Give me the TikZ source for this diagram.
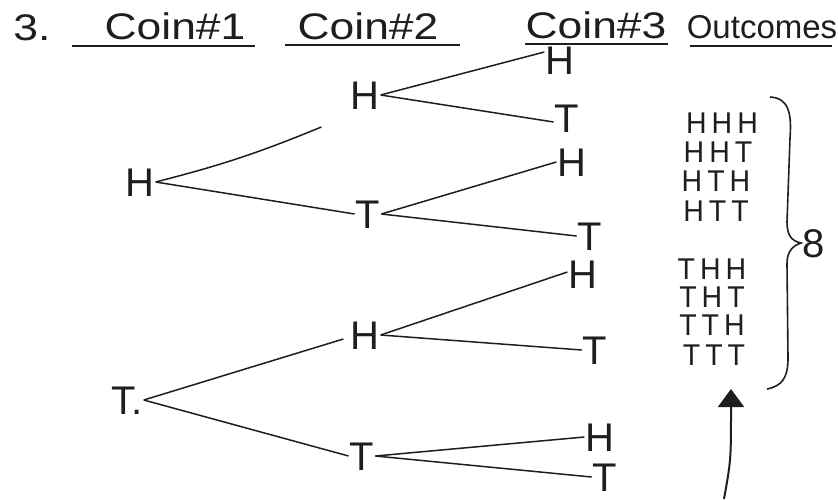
\documentclass[tikz,border=0pt]{standalone}
\usepackage{fontspec}
\setmainfont{Liberation Sans}
\newfontfamily\widefont{Liberation Sans}[FakeStretch=1.2]
\newfontfamily\narrowfont{Liberation Sans}[FakeStretch=0.95]
\usetikzlibrary{arrows.meta}
\definecolor{ink}{HTML}{1E1E1E}
\begin{document}
\begin{tikzpicture}[x=1pt,y=-1pt,
  lvl/.style={inner sep=1pt,text=ink,text height=28.6pt,text depth=0pt,font=\fontsize{40}{40}\selectfont},
  outc/.style={inner sep=0pt,text=ink,text height=21.5pt,text depth=0pt,font=\narrowfont\fontsize{30}{30}\selectfont},
  head/.style={inner sep=1pt,text=ink,font=\widefont\fontsize{37}{37}\selectfont},
  branch/.style={draw=ink,line width=1.5pt},
  uline/.style={draw=ink,line width=1.6pt}]
\useasboundingbox (0,0) rectangle (838,499);
% headers
\node[head] (num) at (32,28) {3.};
\node[head] (c1) at (175,26) {Coin\#1};
\node[head] (c2) at (368,26) {Coin\#2};
\node[head] (c3) at (596,25) {Coin\#3};
\node[head,font=\fontsize{33}{33}\selectfont] (oc) at (762,27) {Outcomes};
\draw[uline] (72,46) -- (255,46);
\draw[uline] (285,45) -- (460,45);
\draw[uline] (525,44) -- (668,44);
\draw[uline] (690,46) -- (832,46);
% tree
\node[lvl] (a) at (140,182) {H};
\node[lvl] (b) at (127,400) {T.};
\node[lvl] (aa) at (365,95) {H};
\node[lvl] (ab) at (368,214) {T};
\node[lvl] (ba) at (365,335) {H};
\node[lvl] (bb) at (362,456) {T};
\node[lvl] (aaa) at (560,60) {H};
\node[lvl] (aab) at (567,118) {T};
\node[lvl] (aba) at (572,162) {H};
\node[lvl] (abb) at (590,236) {T};
\node[lvl] (baa) at (583,274) {H};
\node[lvl] (bab) at (595,350) {T};
\node[lvl] (bba) at (600,437) {H};
\node[lvl] (bbb) at (605,477) {T};
\draw[branch] (a.east) to[bend right=4] ([xshift=-28pt,yshift=-32pt]aa.west);
\draw[branch] (a.east) -- (ab.west);
\draw[branch] (aa.east) -- ([yshift=8pt]aaa.west);
\draw[branch] (aa.east) -- ([yshift=-4pt]aab.west);
\draw[branch] (ab.east) -- (aba.west);
\draw[branch] (ab.east) -- (abb.west);
\draw[branch] (b.east) -- ([xshift=-6pt,yshift=-4pt]ba.west);
\draw[branch] (b.east) -- (bb.west);
\draw[branch] (ba.east) -- ([yshift=2pt]baa.west);
\draw[branch] (ba.east) -- (bab.west);
\draw[branch] (bb.east) -- (bba.west);
\draw[branch] (bb.east) -- (bbb.west);
% outcomes
\node[outc] (o1) at (722,123) {H\,H\,H};
\node[outc] (o2) at (718,152) {H\,H\,T};
\node[outc] (o3) at (716,181) {H\,T\,H};
\node[outc] (o4) at (716,211) {H\,T\,T};
\node[outc] (o5) at (712,269) {T\,H\,H};
\node[outc] (o6) at (712,297) {T\,H\,T};
\node[outc] (o7) at (712,325) {T\,T\,H};
\node[outc] (o8) at (714,355) {T\,T\,T};
% brace
\draw[draw=ink,line width=1.6pt] (770,97) .. controls (788,98) and (792,112) .. (790,138)
  -- (787,222) .. controls (787,236) and (792,241) .. (801,243)
  .. controls (792,246) and (787,252) .. (787,264)
  -- (788,358) .. controls (788,378) and (782,386) .. (767,389);
\node[lvl,font=\fontsize{40}{40}\selectfont] (eight) at (814,243) {8};
% arrow
\coordinate (tail) at (724,499);
\coordinate (tip) at (731,389);
\draw[draw=ink,line width=2pt,-{Triangle[width=26pt,length=18pt]}] (tail) .. controls (731,460) .. (tip);
\end{tikzpicture}
\end{document}
